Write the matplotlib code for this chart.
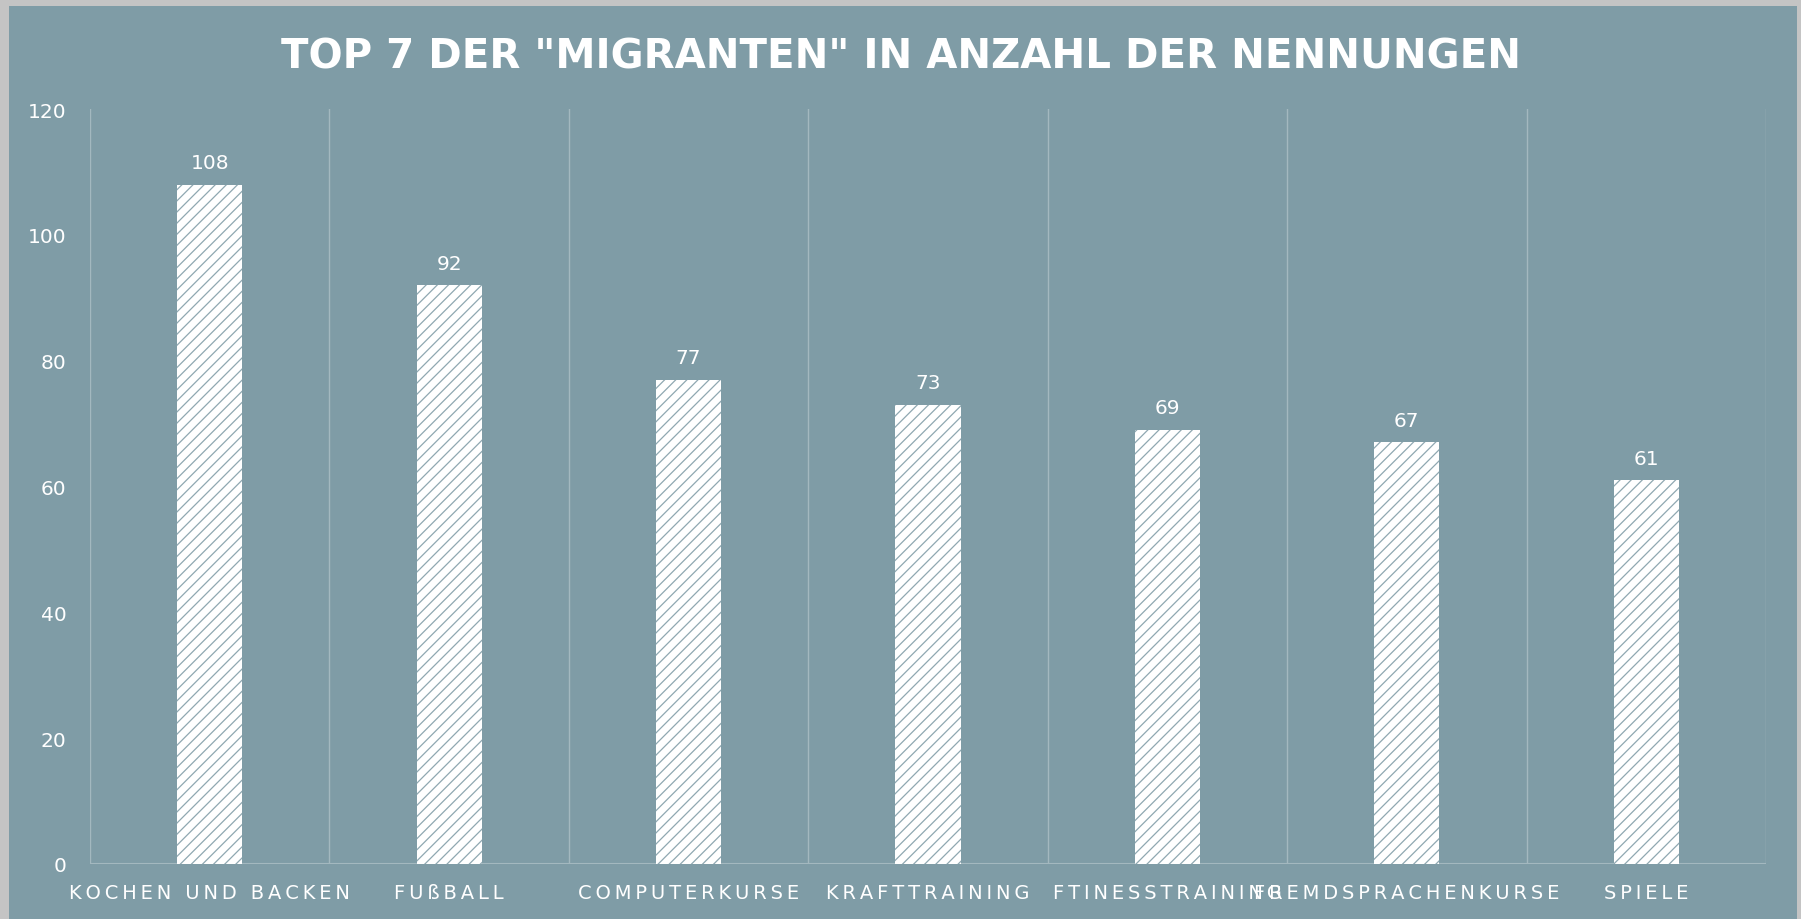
import numpy as np
import matplotlib.pyplot as plt
from matplotlib.patches import Rectangle

categories = ["KOCHEN UND BACKEN", "FUßBALL", "COMPUTERKURSE", "KRAFTTRAINING",
              "FTINESSTRAINING", "FREMDSPRACHENKURSE", "SPIELE"]
values = [108, 92, 77, 73, 69, 67, 61]
yticks = [0, 20, 40, 60, 80, 100, 120]
title = 'TOP 7 DER "MIGRANTEN" IN ANZAHL DER NENNUNGEN'

panel = "#7f9ca6"
grid = "#a3b8bf"
THIN = "\u2009"

plt.rcParams["hatch.linewidth"] = 0.9


def spaced(s):
    # fake letter spacing like the original office chart
    return THIN.join(s)


fig = plt.figure(figsize=(18.01, 9.20), dpi=100, facecolor="#c4c4c4")
fig.patches.append(Rectangle((9 / 1801, 0), 1788 / 1801, 1 - 7 / 920,
                             transform=fig.transFigure, facecolor=panel,
                             edgecolor="none", zorder=-10))

ax = fig.add_axes([0.04997, 0.0598, 0.9306, 0.8206])
ax.set_facecolor("none")

x = np.arange(len(categories))
bars = ax.bar(x, values, width=0.272, facecolor="white", edgecolor="#8fa8b1",
              hatch="///", linewidth=0, zorder=3)
ax.bar_label(bars, labels=[str(v) for v in values], padding=9,
             color="white", fontsize=14.5)

for b in np.arange(len(categories) + 1) - 0.5:
    ax.axvline(b, color=grid, lw=1, zorder=1)
ax.axhline(0, color=grid, lw=1.5, zorder=2)

ax.set_xlim(-0.5, len(categories) - 0.5)
ax.set_ylim(0, 120)
ax.set_yticks(yticks)
ax.set_yticklabels([str(t) for t in yticks], color="white", fontsize=14.5)
ax.set_xticks(x)
ax.set_xticklabels([spaced(c) for c in categories], color="white", fontsize=14)
ax.tick_params(length=0)
ax.tick_params(axis="x", pad=14)
ax.tick_params(axis="y", pad=17)
for s in ax.spines.values():
    s.set_visible(False)

fig.text(0.5, 0.938, title, ha="center", va="center", color="white",
         fontsize=29, fontweight="bold")

fig.savefig("out.png", dpi=100, facecolor=fig.get_facecolor())
